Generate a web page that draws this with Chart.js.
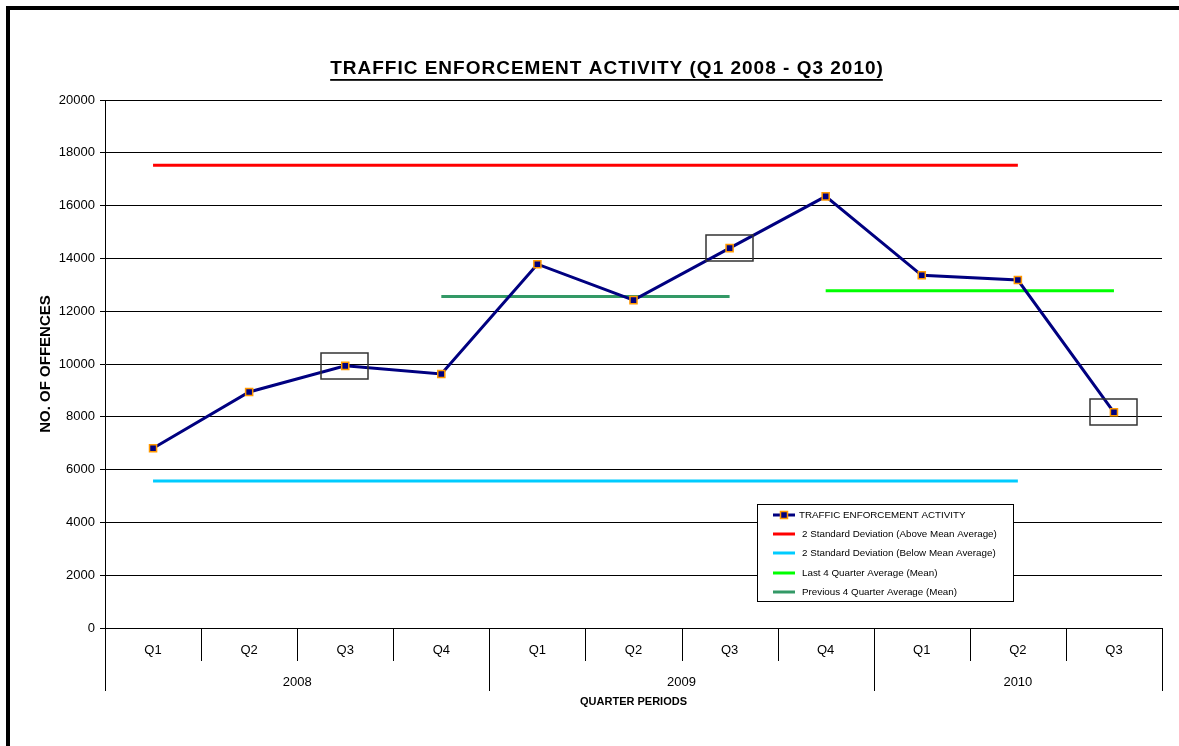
<!DOCTYPE html>
<html>
<head>
<meta charset="utf-8">
<title>Traffic Enforcement Activity</title>
<script src="https://cdn.jsdelivr.net/npm/chart.js@4.4.1/dist/chart.umd.min.js"></script>
<style>
  html, body { margin: 0; padding: 0; background: #fff; overflow: hidden; }
  #wrap { position: relative; width: 1179px; height: 746px; }
  #chart { position: absolute; left: 0; top: 0; }
  #frame {
    position: absolute; left: 6px; top: 6px; width: 1300px; height: 900px;
    border-left: 4px solid #000; border-top: 4px solid #000; pointer-events: none;
  }
</style>
</head>
<body>
<div id="wrap">
  <canvas id="chart" width="1179" height="746"></canvas>
  <div id="frame"></div>
</div>
<script>
// quarters along the bottom, grouped by year
const quarters = ['Q1', 'Q2', 'Q3', 'Q4', 'Q1', 'Q2', 'Q3', 'Q4', 'Q1', 'Q2', 'Q3'];
const years = ['2008', '2009', '2010'];
const quartersPerYear = [4, 4, 3];

// offences per quarter
const offences = [6810, 8940, 9930, 9620, 13780, 12420, 14390, 16350, 13360, 13180, 8170];

// reference lines (null = not drawn in that quarter)
const sdAbove = [17530, 17530, 17530, 17530, 17530, 17530, 17530, 17530, 17530, 17530, null];
const sdBelow = [5570, 5570, 5570, 5570, 5570, 5570, 5570, 5570, 5570, 5570, null];
const last4Avg = [null, null, null, null, null, null, null, 12770, 12770, 12770, 12770];
const prev4Avg = [null, null, null, 12560, 12560, 12560, 12560, null, null, null, null];

// quarters marked with a box
const highlighted = [2, 6, 10];

const yTicks = [0, 2000, 4000, 6000, 8000, 10000, 12000, 14000, 16000, 18000, 20000];

const FONT = "'Liberation Sans', Arial, sans-serif";

// title, category separators, year labels, highlight boxes and legend
const extras = {
  id: 'extras',
  afterDraw(chart) {
    const { ctx, chartArea } = chart;
    const x = chart.scales.x;
    ctx.save();

    // title with underline
    const title = 'TRAFFIC ENFORCEMENT ACTIVITY (Q1 2008 - Q3 2010)';
    ctx.font = 'bold 19px ' + FONT;
    ctx.letterSpacing = '1px';
    ctx.fillStyle = '#000';
    ctx.textAlign = 'left';
    ctx.textBaseline = 'alphabetic';
    const tw = ctx.measureText(title).width;
    ctx.fillText(title, 607 - tw / 2, 74);
    ctx.fillRect(607 - tw / 2, 79, tw - 1, 1.8);
    ctx.letterSpacing = '0px';

    // separators between quarters, longer ones between years
    const step = x.getPixelForValue(1) - x.getPixelForValue(0);
    const yearEdges = [0];
    quartersPerYear.forEach(n => yearEdges.push(yearEdges[yearEdges.length - 1] + n));
    ctx.strokeStyle = '#000';
    ctx.lineWidth = 1;
    for (let i = 0; i <= quarters.length; i++) {
      const px = Math.round(x.getPixelForValue(i) - step / 2) + 0.5;
      const long = yearEdges.includes(i);
      ctx.beginPath();
      ctx.moveTo(px, chartArea.bottom);
      ctx.lineTo(px, long ? 691 : 661);
      ctx.stroke();
    }

    // year labels centred under their quarters
    ctx.font = '13px ' + FONT;
    ctx.textAlign = 'center';
    ctx.textBaseline = 'middle';
    years.forEach((yr, k) => {
      const a = x.getPixelForValue(yearEdges[k]) - step / 2;
      const b = x.getPixelForValue(yearEdges[k + 1]) - step / 2;
      ctx.fillText(yr, (a + b) / 2, 682);
    });

    // boxes round highlighted points
    const pts = chart.getDatasetMeta(0).data;
    ctx.strokeStyle = '#333';
    ctx.lineWidth = 1.5;
    highlighted.forEach(i => {
      const p = pts[i];
      ctx.strokeRect(Math.round(p.x) - 24, Math.round(p.y) - 13, 47, 26);
    });

    // legend
    const lx = 757, ly = 504, lw = 256, lh = 97;
    ctx.fillStyle = '#fff';
    ctx.fillRect(lx, ly, lw, lh);
    ctx.strokeStyle = '#000';
    ctx.lineWidth = 1;
    ctx.strokeRect(lx + 0.5, ly + 0.5, lw, lh);
    const rows = [515, 534, 553, 573, 592];
    ctx.font = '9.8px ' + FONT;
    ctx.textAlign = 'left';
    chart.data.datasets.forEach((ds, i) => {
      const ry = rows[i];
      ctx.strokeStyle = ds.borderColor;
      ctx.lineWidth = 3;
      ctx.beginPath();
      ctx.moveTo(773, ry);
      ctx.lineTo(795, ry);
      ctx.stroke();
      if (i === 0) {
        ctx.fillStyle = ds.pointBackgroundColor;
        ctx.fillRect(780.5, ry - 3.5, 7, 7);
        ctx.strokeStyle = ds.pointBorderColor;
        ctx.lineWidth = 1.5;
        ctx.strokeRect(780.5, ry - 3.5, 7, 7);
      }
      ctx.fillStyle = '#000';
      ctx.fillText(ds.label, i === 0 ? 799 : 802, ry);
    });

    ctx.restore();
  }
};

const refLine = (label, data, color) => ({
  label,
  data,
  borderColor: color,
  backgroundColor: color,
  borderWidth: 3,
  pointRadius: 0,
  fill: false,
  spanGaps: false
});

new Chart(document.getElementById('chart'), {
  type: 'line',
  data: {
    labels: quarters,
    datasets: [
      {
        label: 'TRAFFIC ENFORCEMENT ACTIVITY',
        data: offences,
        borderColor: '#000080',
        borderWidth: 3,
        pointStyle: 'rect',
        pointRadius: 5,
        pointBackgroundColor: '#000080',
        pointBorderColor: '#FF9900',
        pointBorderWidth: 1.5,
        fill: false,
        tension: 0
      },
      refLine('2 Standard Deviation (Above Mean Average)', sdAbove, '#FF0000'),
      refLine('2 Standard Deviation (Below Mean Average)', sdBelow, '#00CCFF'),
      refLine('Last 4 Quarter Average (Mean)', last4Avg, '#00FF00'),
      refLine('Previous 4 Quarter Average (Mean)', prev4Avg, '#339966')
    ]
  },
  options: {
    responsive: false,
    animation: false,
    layout: { padding: { top: 100, right: 17, bottom: 28, left: 0 } },
    plugins: {
      legend: { display: false },
      tooltip: { enabled: false },
      title: { display: false }
    },
    scales: {
      x: {
        offset: true,
        grid: { display: false, drawTicks: false },
        border: { display: true, color: '#000', width: 1 },
        ticks: { color: '#000', font: { family: FONT, size: 13 }, padding: 15, maxRotation: 0, autoSkip: false },
        title: {
          display: true,
          text: 'QUARTER PERIODS',
          color: '#000',
          font: { family: FONT, size: 11, weight: 'bold' },
          padding: { top: 0, bottom: 9 }
        },
        afterFit(scale) { scale.height = 90; }
      },
      y: {
        min: 0,
        max: 20000,
        afterBuildTicks(scale) { scale.ticks = yTicks.map(v => ({ value: v })); },
        grid: { color: '#000', lineWidth: 1, tickLength: 5, drawTicks: true },
        border: { display: true, color: '#000', width: 1 },
        ticks: { color: '#000', font: { family: FONT, size: 13 }, padding: 5, callback: v => String(v) },
        title: {
          display: true,
          text: 'NO. OF OFFENCES',
          color: '#000',
          font: { family: FONT, size: 15, weight: 'bold' },
          padding: { top: 37, bottom: 0 }
        },
        afterFit(scale) { scale.width = 105; }
      }
    }
  },
  plugins: [extras]
});
</script>
</body>
</html>
